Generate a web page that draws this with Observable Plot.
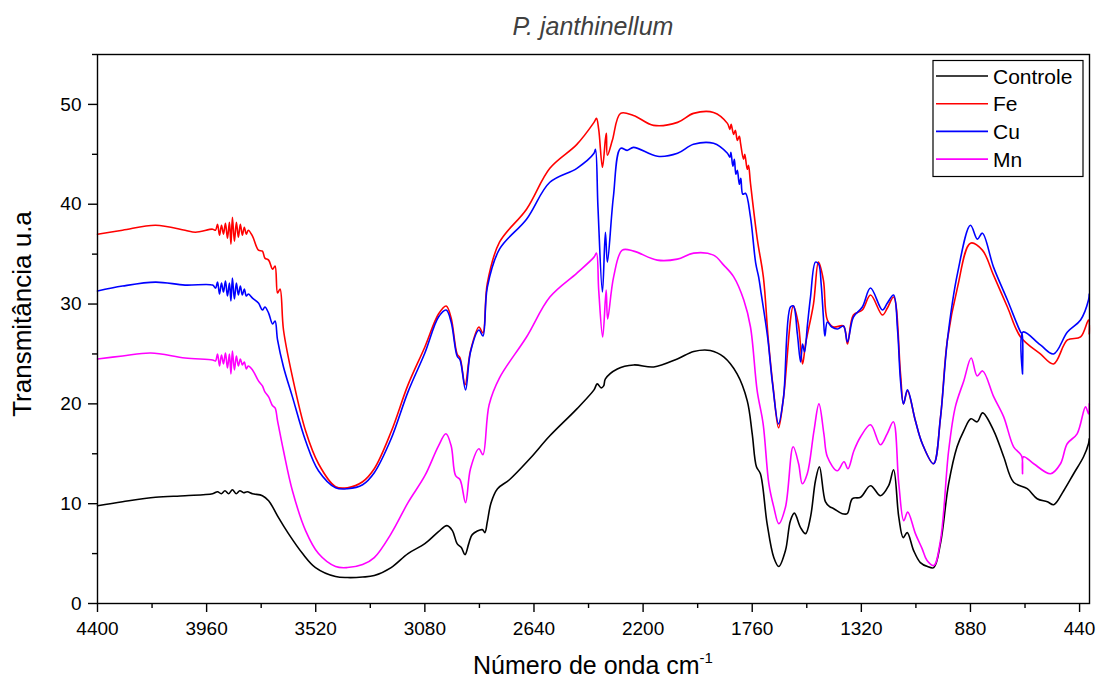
<!DOCTYPE html>
<html><head><meta charset="utf-8">
<script src="https://cdn.jsdelivr.net/npm/d3@7"></script>
<script src="https://cdn.jsdelivr.net/npm/@observablehq/plot@0.6"></script>
<style>body{margin:0;background:#fff} svg{display:block}</style>
</head><body><div id="chart"></div>
<script>
const chartTitle = "P. janthinellum";
const xLabel = "Número de onda cm";
const xLabelSup = "-1";
const yLabel = "Transmitância u.a";
const seriesNames = ["Controle", "Fe", "Cu", "Mn"];
const seriesColors = ["#000000", "#ff0000", "#0000ff", "#ff00ff"];
const xMajorTicks = [4400, 3960, 3520, 3080, 2640, 2200, 1760, 1320, 880, 440];
const xMinorTicks = [4180, 3740, 3300, 2860, 2420, 1980, 1540, 1100, 660];
const yMajorTicks = [0, 10, 20, 30, 40, 50];
const yMinorTicks = [5, 15, 25, 35, 45, 55];

const controle = [[4400,9.8],[4299,10.2],[4166,10.65],[4047,10.8],[3936,11.0],[3916,11.2],[3901,11.0],[3886,11.3],[3871,11.0],[3856,11.4],[3841,11.0],[3826,11.3],[3811,11.1],[3796,11.2],[3775,11.0],[3735,10.8],[3710,10.3],[3690,9.5],[3670,8.6],[3630,7.0],[3573,5.0],[3521,3.6],[3440,2.7],[3392,2.6],[3331,2.65],[3284,2.8],[3216,3.6],[3148,5.0],[3080,6.0],[3025,7.2],[2991,7.8],[2969,7.3],[2950,6.0],[2933,5.6],[2918,4.9],[2903,6.0],[2889,6.9],[2848,7.4],[2838,7.1],[2828,8.2],[2813,10.1],[2787,11.5],[2739,12.4],[2657,14.5],[2576,16.8],[2467,19.5],[2398,21.4],[2385,22.0],[2369,21.6],[2359,21.8],[2352,22.5],[2304,23.5],[2238,23.9],[2157,23.7],[2062,24.5],[1996,25.25],[1929,25.35],[1875,24.7],[1821,23.0],[1780,20.3],[1760,17.0],[1743,13.7],[1727,13.0],[1700,8.0],[1673,4.6],[1653,3.7],[1626,5.3],[1606,8.3],[1590,9.05],[1565,7.6],[1545,7.0],[1525,8.65],[1505,12.3],[1489,13.7],[1465,10.2],[1448,9.7],[1431,9.5],[1397,9.0],[1377,9.0],[1356,10.5],[1323,10.65],[1283,11.8],[1243,10.8],[1210,11.8],[1190,13.4],[1169,8.65],[1151,6.6],[1135,7.1],[1109,5.3],[1082,4.1],[1053,3.7],[1028,3.6],[1001,6.0],[968,12.0],[934,15.7],[907,17.3],[878,18.5],[853,18.2],[831,19.1],[786,17.3],[746,14.7],[706,12.15],[651,11.5],[611,10.5],[570,10.2],[544,9.9],[504,11.3],[464,13.0],[424,14.7],[404,16.0],[401,16.5]];

const fe = [[4400,37.0],[4299,37.4],[4166,37.9],[4047,37.4],[4005,37.2],[3936,37.5],[3924,37.4],[3916,38.0],[3908,36.9],[3900,37.9],[3892,37.0],[3884,38.1],[3876,36.6],[3868,38.2],[3862,36.0],[3856,38.7],[3848,36.3],[3840,38.2],[3832,36.7],[3824,38.0],[3816,36.9],[3808,37.7],[3800,37.0],[3792,37.4],[3775,36.8],[3751,35.4],[3735,35.3],[3725,34.6],[3710,34.4],[3694,33.5],[3684,33.8],[3674,31.1],[3664,31.5],[3650,27.4],[3614,22.7],[3561,17.3],[3509,14.0],[3440,11.7],[3392,11.6],[3331,12.2],[3284,13.5],[3216,17.2],[3148,21.9],[3080,25.7],[3025,29.0],[2994,29.8],[2974,28.6],[2950,25.0],[2938,24.6],[2918,21.9],[2896,25.3],[2862,27.7],[2846,27.1],[2828,32.1],[2779,36.2],[2670,39.5],[2576,43.6],[2467,46.0],[2398,48.2],[2388,48.6],[2379,47.5],[2364,43.7],[2352,46.5],[2348,47.1],[2344,44.9],[2324,46.4],[2291,49.1],[2239,48.9],[2158,47.9],[2061,48.2],[1997,49.1],[1916,49.2],[1860,48.1],[1850,47.5],[1845,48.0],[1835,47.0],[1828,47.4],[1820,46.4],[1812,46.8],[1807,46.1],[1795,44.5],[1790,45.0],[1780,43.5],[1775,43.9],[1767,42.1],[1739,36.4],[1715,32.7],[1695,26.4],[1674,21.3],[1654,17.6],[1634,20.6],[1594,29.8],[1574,28.0],[1557,24.0],[1545,26.0],[1513,30.0],[1493,34.2],[1473,32.4],[1457,28.4],[1432,27.7],[1392,27.8],[1376,26.0],[1352,28.9],[1316,29.4],[1283,30.9],[1235,28.9],[1215,29.6],[1190,30.7],[1162,23.0],[1150,20.0],[1134,21.3],[1102,18.3],[1074,16.0],[1029,14.0],[1001,18.6],[973,26.4],[932,31.7],[880,36.1],[832,35.4],[787,32.9],[731,29.7],[678,26.7],[598,25.0],[545,24.0],[489,26.4],[436,26.7],[404,28.4],[401,27.0]];

const cu = [[4400,31.3],[4299,31.8],[4166,32.2],[4047,31.9],[3936,31.9],[3924,31.6],[3916,32.2],[3908,31.0],[3900,32.1],[3892,31.2],[3884,32.3],[3876,30.8],[3868,32.1],[3862,30.3],[3856,32.6],[3848,30.5],[3840,32.1],[3832,30.9],[3824,31.8],[3816,30.9],[3808,31.5],[3800,30.8],[3792,31.0],[3775,30.6],[3751,30.1],[3735,29.4],[3725,29.7],[3710,29.1],[3694,28.0],[3684,28.3],[3674,26.4],[3650,23.7],[3614,20.7],[3561,16.3],[3509,13.3],[3440,11.6],[3392,11.5],[3331,11.9],[3284,13.1],[3216,16.5],[3148,21.2],[3080,25.1],[3025,28.7],[2994,29.4],[2974,28.2],[2950,24.8],[2938,24.4],[2916,21.4],[2896,25.2],[2862,27.4],[2846,26.8],[2828,31.7],[2779,35.5],[2670,38.5],[2576,42.2],[2467,43.6],[2398,45.1],[2392,45.5],[2382,39.7],[2364,31.2],[2352,37.2],[2344,34.2],[2320,40.7],[2291,45.6],[2263,45.4],[2239,45.7],[2142,44.8],[2061,45.1],[1997,46.0],[1916,46.1],[1860,45.1],[1850,44.7],[1846,45.2],[1838,43.8],[1832,44.5],[1826,43.0],[1820,43.4],[1812,42.0],[1806,42.6],[1798,41.0],[1787,41.1],[1767,38.7],[1746,34.1],[1734,32.7],[1726,31.4],[1698,26.7],[1678,22.0],[1654,18.0],[1634,20.6],[1606,29.7],[1594,29.8],[1578,27.0],[1565,24.2],[1557,26.0],[1549,25.2],[1537,28.0],[1525,30.7],[1505,34.2],[1492,34.0],[1482,32.0],[1473,28.7],[1467,26.8],[1457,28.2],[1439,27.7],[1416,27.5],[1392,27.8],[1376,26.2],[1352,28.7],[1316,29.7],[1283,31.6],[1235,29.4],[1215,30.1],[1190,30.9],[1174,27.4],[1162,22.3],[1150,20.0],[1134,21.4],[1102,18.3],[1074,16.0],[1029,14.0],[1001,18.6],[973,26.4],[932,33.1],[880,37.9],[852,36.5],[832,37.1],[787,33.7],[731,30.4],[678,27.2],[672,27.0],[670,23.0],[668,27.2],[598,25.9],[545,25.0],[489,27.2],[436,28.4],[404,30.4],[401,31.0]];

const mn = [[4400,24.5],[4299,24.8],[4185,25.1],[4047,24.6],[3936,24.4],[3924,24.3],[3916,25.0],[3908,23.8],[3900,24.9],[3892,24.0],[3884,25.1],[3876,23.6],[3868,25.0],[3862,23.0],[3856,25.3],[3848,23.4],[3840,24.8],[3832,23.8],[3824,24.5],[3816,23.9],[3808,24.2],[3800,23.5],[3792,23.8],[3775,23.4],[3751,22.3],[3735,21.8],[3725,21.2],[3710,20.7],[3694,19.8],[3684,19.6],[3674,18.3],[3650,15.3],[3614,11.3],[3561,7.3],[3509,5.0],[3440,3.7],[3392,3.6],[3331,3.9],[3284,4.6],[3216,7.0],[3148,10.1],[3080,12.8],[3025,15.8],[2995,17.0],[2974,15.8],[2956,12.8],[2938,12.4],[2916,10.1],[2896,13.5],[2862,15.5],[2846,14.9],[2821,19.9],[2779,22.6],[2670,26.7],[2576,30.7],[2467,33.1],[2398,34.7],[2388,35.1],[2379,31.4],[2363,26.7],[2349,31.4],[2343,28.5],[2319,32.7],[2284,35.4],[2238,35.3],[2143,34.4],[2062,34.5],[1996,35.1],[1916,34.9],[1875,33.9],[1834,32.7],[1794,30.4],[1767,27.7],[1740,21.3],[1716,18.0],[1693,12.0],[1673,9.65],[1653,8.0],[1626,9.65],[1595,15.7],[1573,14.0],[1558,12.0],[1538,13.0],[1511,17.3],[1491,20.0],[1471,17.0],[1457,14.7],[1417,13.3],[1390,14.2],[1374,13.5],[1350,15.3],[1323,16.7],[1283,17.9],[1243,15.9],[1216,17.0],[1191,18.2],[1169,12.0],[1149,8.3],[1133,9.15],[1102,7.0],[1075,5.5],[1055,4.3],[1028,3.8],[1001,6.3],[968,15.3],[941,19.7],[907,22.3],[877,24.6],[853,22.8],[831,23.3],[786,20.7],[746,18.7],[706,15.7],[674,14.8],[670,13.0],[666,14.7],[625,14.0],[557,13.0],[517,14.0],[490,16.0],[450,17.0],[416,19.7],[404,19.0],[401,20.0]];

const seriesData = [controle, fe, cu, mn];
const rows = [];
seriesData.forEach((s, i) => s.forEach(([w, v]) => rows.push({w, v, serie: seriesNames[i]})));

const font = "'Liberation Sans', Arial, sans-serif";
const plot = Plot.plot({
  width: 1100, height: 684,
  marginLeft: 97, marginRight: 11, marginTop: 54, marginBottom: 81,
  style: {fontFamily: font, fontSize: "19px", color: "#000", background: "#fff", overflow: "visible"},
  x: {domain: [4400, 400]},
  y: {domain: [0, 55]},
  color: {domain: seriesNames, range: seriesColors},
  marks: [
    Plot.line(rows, {x: "w", y: "v", z: "serie", stroke: "serie", strokeWidth: 1.6, curve: "catmull-rom"}),
    Plot.frame({stroke: "#000", strokeWidth: 1.4}),
    Plot.axisX({ticks: xMajorTicks, tickSize: 9, tickPadding: 9, tickFormat: d => String(d), label: null, strokeWidth: 1.4}),
    Plot.axisX({ticks: xMinorTicks, tickSize: 5, tickFormat: () => "", label: null, strokeWidth: 1.4}),
    Plot.axisY({ticks: yMajorTicks, tickSize: 9, tickPadding: 7, tickFormat: d => String(d), label: null, strokeWidth: 1.4}),
    Plot.axisY({ticks: yMinorTicks, tickSize: 5, tickFormat: () => "", label: null, strokeWidth: 1.4})
  ]
});
document.getElementById("chart").appendChild(plot);

const svg = d3.select(plot);
svg.append("text").attr("x", 593).attr("y", 35).attr("text-anchor", "middle")
  .attr("font-family", font).attr("font-size", 25).attr("font-style", "italic").attr("fill", "#404040").text(chartTitle);
const xl = svg.append("text").attr("x", 593).attr("y", 674).attr("text-anchor", "middle")
  .attr("font-family", font).attr("font-size", 25).attr("fill", "#000");
xl.append("tspan").text(xLabel);
xl.append("tspan").attr("dy", -11).attr("font-size", 15).text(xLabelSup);
svg.append("text").attr("transform", "translate(31,314) rotate(-90)").attr("text-anchor", "middle")
  .attr("font-family", font).attr("font-size", 26).attr("fill", "#000").text(yLabel);

// legend
const lg = svg.append("g");
lg.append("rect").attr("x", 933).attr("y", 60.5).attr("width", 150).attr("height", 116)
  .attr("fill", "#fff").attr("stroke", "#000").attr("stroke-width", 1.2);
seriesNames.forEach((name, i) => {
  const cy = 76 + i * 27.7;
  lg.append("line").attr("x1", 936).attr("x2", 988).attr("y1", cy).attr("y2", cy)
    .attr("stroke", seriesColors[i]).attr("stroke-width", 1.6);
  lg.append("text").attr("x", 993).attr("y", cy + 7.5).attr("text-anchor", "start").attr("font-family", font)
    .attr("font-size", 21).attr("fill", "#000").text(name);
});
</script>
</body></html>
